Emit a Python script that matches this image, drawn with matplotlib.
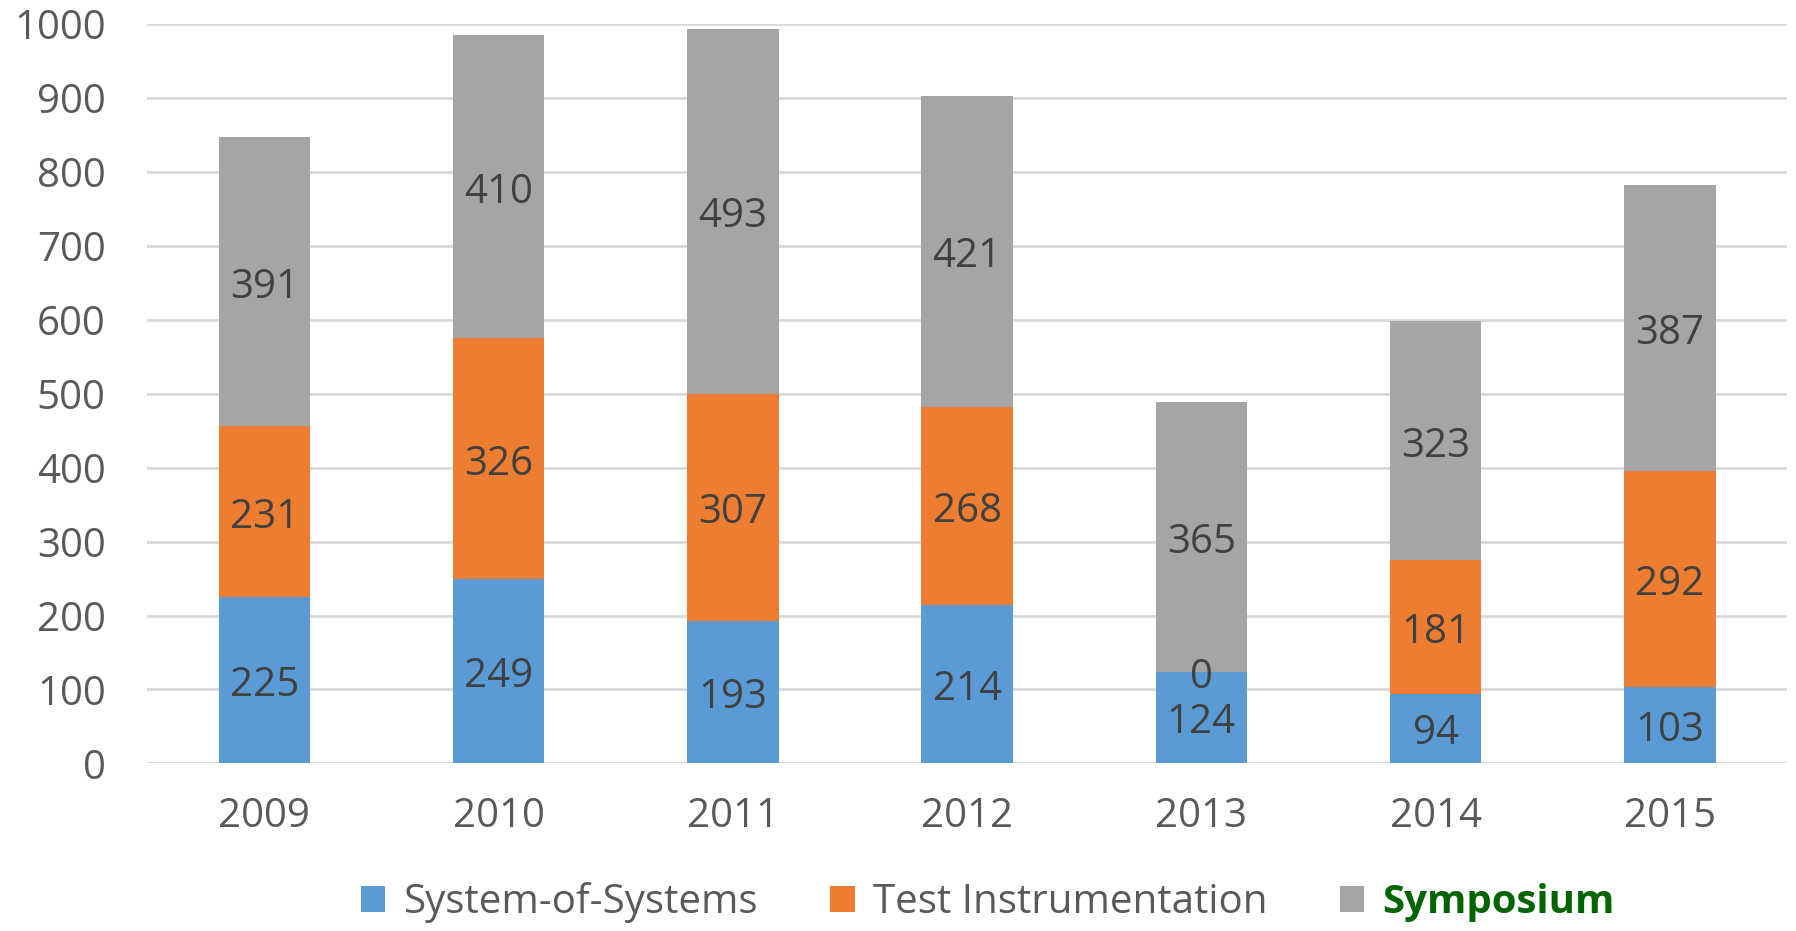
import matplotlib.pyplot as plt
import numpy as np

# data
years = ['2009', '2010', '2011', '2012', '2013', '2014', '2015']
system_of_systems = [225, 249, 193, 214, 124, 94, 103]
test_instrumentation = [231, 326, 307, 268, 0, 181, 292]
symposium = [391, 410, 493, 421, 365, 323, 387]

series_names = ['System-of-Systems', 'Test Instrumentation', 'Symposium']
colors = ['#5B9BD5', '#ED7D31', '#A5A5A5']

plt.rcParams['font.family'] = ['Open Sans', 'DejaVu Sans']

fig = plt.figure(figsize=(17.96, 9.31), dpi=100)
ax = fig.add_axes([0.082, 0.180, 0.913, 0.794])

x = np.arange(len(years))
width = 0.39
bottom = np.zeros(len(years))
handles = []
for vals, col, name in zip([system_of_systems, test_instrumentation, symposium], colors, series_names):
    vals = np.array(vals)
    bars = ax.bar(x, vals, width, bottom=bottom, color=col, label=name, zorder=3)
    handles.append(bars)
    # value labels in the middle of each segment
    for xi, b, v in zip(x, bottom, vals):
        ax.annotate(f'{v}', (xi, b + v / 2), xytext=(0, -4), textcoords='offset points',
                    ha='center', va='center', fontsize=29, color='#404040', zorder=4)
    bottom = bottom + vals

ax.set_xlim(-0.5, len(years) - 0.5)
ax.set_ylim(0, 1000)
ax.set_yticks(range(0, 1001, 100))
ax.set_xticks(x)
ax.set_xticklabels(years)
ax.tick_params(axis='both', length=0, labelsize=29, labelcolor='#595959')
ax.tick_params(axis='x', pad=24)
ax.tick_params(axis='y', pad=30)
ax.grid(axis='y', color='#D9D9D9', linewidth=2, zorder=0)
for s in ax.spines.values():
    s.set_visible(False)

leg = fig.legend(handles, series_names, loc='lower center', bbox_to_anchor=(0.55, 0.0),
                 ncol=3, frameon=False, fontsize=29, handlelength=0.6, handleheight=0.6,
                 columnspacing=1.8, handletextpad=0.45, borderaxespad=0.1, borderpad=0.1)
for t in leg.get_texts():
    t.set_color('#595959')
leg.get_texts()[2].set_color('#006400')
leg.get_texts()[2].set_fontweight('bold')

fig.savefig('out.png', dpi=100)
